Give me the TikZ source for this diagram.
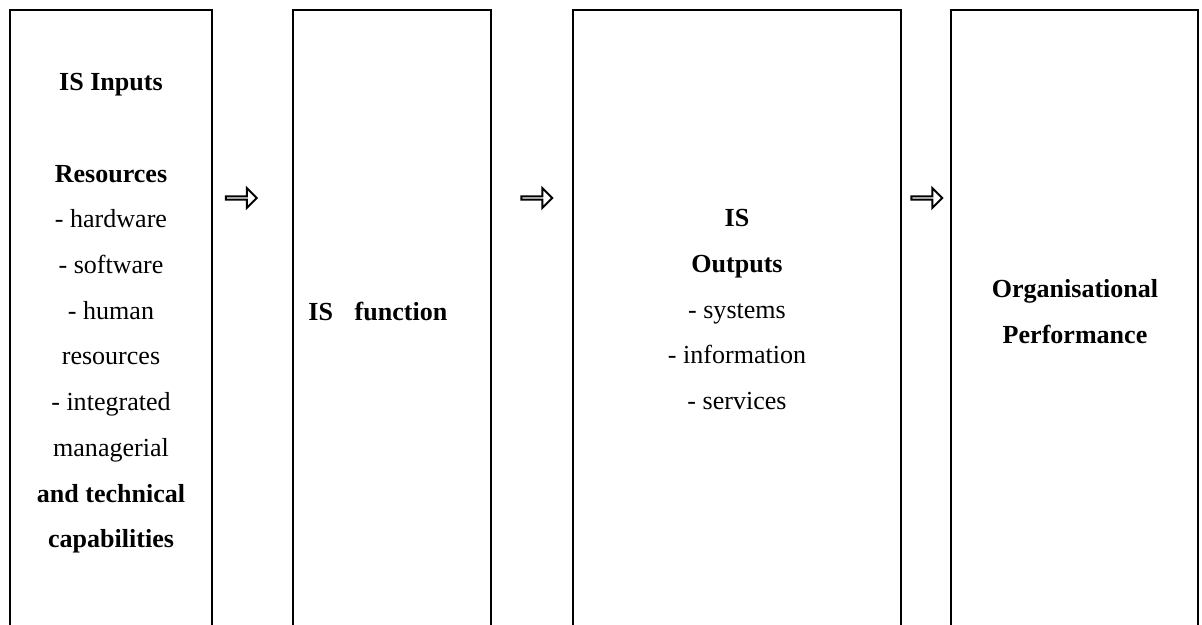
\documentclass[tikz,border=0pt]{standalone}
\usepackage{fontspec}
\setmainfont{Liberation Serif}
\usepackage{tikz}
\usetikzlibrary{shapes.arrows, fit, positioning}
\tikzset{
  panel/.style  = {draw=black, line width=1.25pt, inner sep=0pt},
  label/.style  = {align=center, inner sep=0pt, font=\fontsize{12}{21.06}\selectfont},
  flow/.style   = {single arrow, draw=black, line width=0.9pt, fill=white,
                   minimum height=14.2pt, minimum width=9pt, inner sep=0pt,
                   single arrow head extend=2.4pt},
}

\begin{document}
\begin{tikzpicture}[x=0.4608pt, y=-0.4608pt]
  \useasboundingbox (0,0) rectangle (1202,624);
  \clip (0,0) rectangle (1202,624);
  % the four panels, running off the bottom
  \node[panel, fit={(10,10) (212,660)}] (inputs) {};
  \node[panel, fit={(293,10) (491,660)}] (function) {};
  \node[panel, fit={(573,10) (901,660)}] (outputs) {};
  \node[panel, fit={(951,10) (1198,660)}] (perf) {};
  % panel texts
  \node[label, anchor=north] (inputsTxt) at (111,73)
    {\textbf{IS Inputs}\\ \\ \textbf{Resources}\\- hardware\\- software\\- human\\
     resources\\- integrated\\managerial\\\textbf{and technical}\\\textbf{capabilities}};
  \node[label, anchor=base west] (functionTxt) at (308,320)
    {\textbf{IS\hspace*{10pt}function}};
  \node[label, anchor=north] (outputsTxt) at (737,209)
    {\textbf{IS}\\\textbf{Outputs}\\- systems\\- information\\- services};
  \node[label, anchor=north] (perfTxt) at (1075,279)
    {\textbf{Organisational}\\\textbf{Performance}};
  % hollow arrows between panels
  \node[flow] (arrA) at (240.5,198) {};
  \node[flow] (arrB) at (536,198) {};
  \node[flow] (arrC) at (926,198) {};
\end{tikzpicture}
\end{document}
